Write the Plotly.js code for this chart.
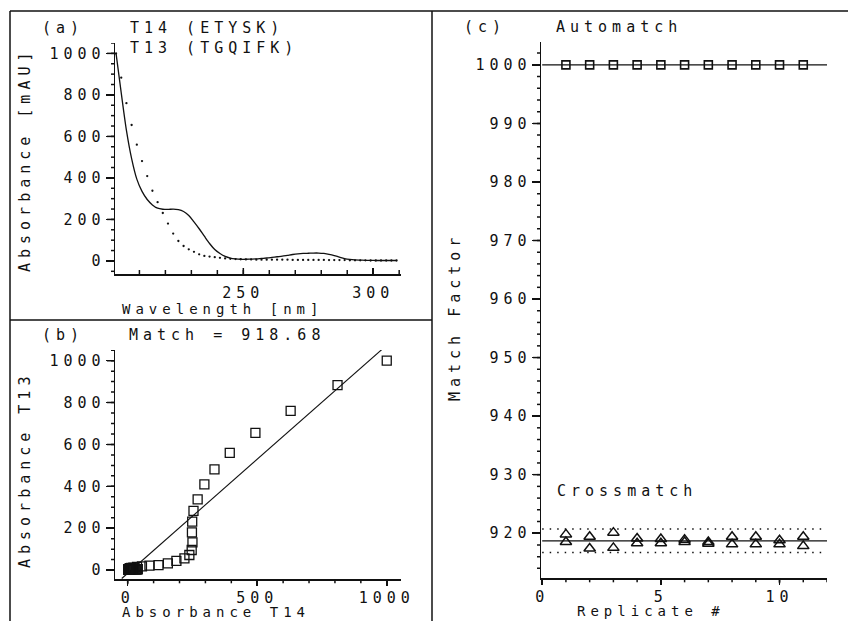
<!DOCTYPE html>
<html>
<head>
<meta charset="utf-8">
<script src="https://cdn.plot.ly/plotly-3.0.1.min.js"></script>
<style>
  html, body { margin: 0; padding: 0; background: #ffffff; }
  #chart { width: 857px; height: 621px; }
  svg text { letter-spacing: 5px; }
</style>
</head>
<body>
<div id="chart"></div>
<script>
// UV spectra of two tryptic peptides, sampled every 2 nm
const wavelength = [201,203,205,207,209,211,213,215,217,219,221,223,225,227,229,231,233,235,237,239,
                    241,243,245,247,249,251,253,255,257,259,261,263,265,267,269,271,273,275,277,279,
                    281,283,285,287,289,291,293,295,297,299,301,303,305,307,309];
// T14 (ETYSK), absorbance in mAU
const absT14 = [1000,810,629,493,394,335,296,270,254,249,248,250,247,238,219,188,155,119,84,55,
                36,22,14,10,8,8,9,10,12,14,17,20,23,27,31,34,36,37,38,38,
                36,32,26,18,11,7,5,4,3,3,2,2,2,2,2];
// T13 (TGQIFK), absorbance in mAU
const absT13 = [1000,883,760,655,560,481,409,338,283,231,180,132,96,72,56,44,32,24,21,18,
                15,12,10,9,8,7,7,6,6,6,6,6,6,6,5,5,5,5,5,5,
                5,4,4,4,4,3,3,3,3,2,2,2,2,2,2];

// Regression of T13 on T14 and the span it is drawn over
const fitSlope = 1.089;
const fitIntercept = -15;
const fitSpan = [-23, 982];

// Match factors for 11 replicate runs
const matchValue = 918.68;
const replicates = [1,2,3,4,5,6,7,8,9,10,11];
const replicateSpan = [0, 12];
const autoMatch = [1000,1000,1000,1000,1000,1000,1000,1000,1000,1000,1000];
const crossMatchA = [919.8,919.4,920.1,919.1,919.0,918.9,918.5,919.4,919.4,918.8,919.4];
const crossMatchB = [918.5,917.4,917.5,918.3,918.3,918.5,918.2,918.1,918.1,918.1,917.8];
const crossLimits = [916.7, 920.7];

// Labelled tick values of each axis
const wavelengthTicks = [250, 300];
const absorbanceTicks = [0, 200, 400, 600, 800, 1000];
const t14Ticks = [0, 500, 1000];
const replicateTicks = [0, 5, 10];
const matchTicks = [920, 930, 940, 950, 960, 970, 980, 990, 1000];

const W = 857, H = 621;
const px = v => v / W;
const py = v => 1 - v / H;
const ink = '#111111';
const FONT = { family: 'DejaVu Sans Mono', size: 15, color: ink };
const FONT_SM = { family: 'DejaVu Sans Mono', size: 14, color: ink };

const autoMean = autoMatch.reduce((a, b) => a + b, 0) / autoMatch.length;
const flat = (v) => replicateSpan.map(() => v);

const traces = [
  { x: wavelength, y: absT14, xaxis: 'x', yaxis: 'y', mode: 'lines', name: 'T14 (ETYSK)',
    line: { color: ink, width: 1.3, shape: 'spline', smoothing: 0.8 } },
  { x: wavelength, y: absT13, xaxis: 'x', yaxis: 'y', mode: 'markers', name: 'T13 (TGQIFK)',
    marker: { color: ink, size: 2.3 } },

  { x: fitSpan, y: fitSpan.map(v => fitSlope * v + fitIntercept), xaxis: 'x2', yaxis: 'y2',
    mode: 'lines', line: { color: ink, width: 1.1 } },
  { x: absT14, y: absT13, xaxis: 'x2', yaxis: 'y2', mode: 'markers',
    marker: { symbol: 'square-open', size: 9, color: ink, line: { width: 1.3, color: ink } } },

  { x: replicateSpan, y: flat(autoMean), xaxis: 'x3', yaxis: 'y3', mode: 'lines',
    line: { color: ink, width: 1.2 } },
  { x: replicates, y: autoMatch, xaxis: 'x3', yaxis: 'y3', mode: 'markers',
    marker: { symbol: 'square-open', size: 8, color: ink, line: { width: 1.6, color: ink } } },

  { x: replicateSpan, y: flat(matchValue), xaxis: 'x3', yaxis: 'y3', mode: 'lines',
    line: { color: ink, width: 1.2 } },
  { x: replicateSpan, y: flat(crossLimits[1]), xaxis: 'x3', yaxis: 'y3', mode: 'lines',
    line: { color: ink, width: 1.5, dash: '1.5px,6px' } },
  { x: replicateSpan, y: flat(crossLimits[0]), xaxis: 'x3', yaxis: 'y3', mode: 'lines',
    line: { color: ink, width: 1.5, dash: '1.5px,6px' } },
  { x: replicates, y: crossMatchA, xaxis: 'x3', yaxis: 'y3', mode: 'markers',
    marker: { symbol: 'triangle-up-open', size: 10, color: ink, line: { width: 1.5, color: ink } } },
  { x: replicates, y: crossMatchB, xaxis: 'x3', yaxis: 'y3', mode: 'markers',
    marker: { symbol: 'triangle-up-open', size: 10, color: ink, line: { width: 1.5, color: ink } } }
];

// Pixel boxes of the three plot areas
const boxA = { x: [115, 401], y: [43, 274] };
const boxB = { x: [115, 401], y: [350, 579.3] };
const boxC = { x: [541, 827], y: [42, 578.3] };

function axis(extra) {
  return Object.assign({
    showline: true, linecolor: ink, linewidth: 1.5, mirror: false,
    showgrid: false, zeroline: false, ticks: 'outside', ticklen: 8, tickwidth: 1.5,
    tickcolor: ink, tickfont: FONT, fixedrange: true, tickmode: 'array'
  }, extra);
}

// Evenly spaced values between two limits, used for the tick marks
function steps(start, stop, step) {
  const out = [];
  for (let v = start; v <= stop + 1e-9; v += step) out.push(+v.toFixed(6));
  return out;
}

// Tick marks as short line segments tied to an axis and the edge of its plot area
function yTickMarks(axId, box, values, len) {
  const w = box.x[1] - box.x[0];
  return values.map(v => ({ type: 'line', layer: 'above', xref: 'x' + axId + ' domain', yref: 'y' + axId,
    x0: -len / w, x1: 0, y0: v, y1: v, line: { color: ink, width: 1.5 } }));
}
function xTickMarks(axId, box, values, len) {
  const h = box.y[1] - box.y[0];
  return values.map(v => ({ type: 'line', layer: 'above', xref: 'x' + axId, yref: 'y' + axId + ' domain',
    x0: v, x1: v, y0: 0, y1: len / h, line: { color: ink, width: 1.5 } }));
}

const tickShapes = [].concat(
  xTickMarks('', boxA, wavelengthTicks, 6),
  xTickMarks('', boxA, steps(210, 310, 10), 4),
  yTickMarks('', boxA, absorbanceTicks, 8),
  yTickMarks('', boxA, steps(-50, 1050, 50), 4),

  xTickMarks('2', boxB, t14Ticks, -5),
  xTickMarks('2', boxB, steps(0, 1000, 100), -4),
  yTickMarks('2', boxB, absorbanceTicks, 8),
  yTickMarks('2', boxB, steps(-0, 1050, 50), 4),

  xTickMarks('3', boxC, replicateTicks, -5),
  xTickMarks('3', boxC, steps(0, 12, 1), -4),
  yTickMarks('3', boxC, matchTicks, 8),
  yTickMarks('3', boxC, steps(914, 1002, 2), 4)
);

const frame = [
  [10, 11, 848, 11], [10, 11, 10, H], [432, 11, 432, H], [10, 320, 432, 320]
].map(s => ({ type: 'line', xref: 'paper', yref: 'paper', x0: px(s[0]), y0: py(s[1]), x1: px(s[2]), y1: py(s[3]),
  line: { color: ink, width: 1.5 } }));

const layout = {
  width: W, height: H,
  margin: { l: 0, r: 0, t: 0, b: 0 },
  showlegend: false,
  font: FONT,

  xaxis: axis({ domain: [px(boxA.x[0]), px(boxA.x[1])], anchor: 'y', range: [200.6, 310.7],
    tickvals: wavelengthTicks, ticks: 'inside', ticklen: 6, ticklabelstandoff: 4 }),
  yaxis: axis({ domain: [py(boxA.y[1]), py(boxA.y[0])], anchor: 'x', range: [-63, 1050],
    tickvals: absorbanceTicks, ticklabelstandoff: -3 }),

  xaxis2: axis({ domain: [px(boxB.x[0]), px(boxB.x[1])], anchor: 'y2', range: [-49, 1055],
    tickvals: t14Ticks, ticklen: 5, ticklabelstandoff: -1 }),
  yaxis2: axis({ domain: [py(boxB.y[1]), py(boxB.y[0])], anchor: 'x2', range: [-44, 1051],
    tickvals: absorbanceTicks, ticklabelstandoff: -3 }),

  xaxis3: axis({ domain: [px(boxC.x[0]), px(boxC.x[1])], anchor: 'y3', range: [-0.05, 12],
    tickvals: replicateTicks, ticklen: 5, ticklabelstandoff: -1 }),
  yaxis3: axis({ domain: [py(boxC.y[1]), py(boxC.y[0])], anchor: 'x3', range: [912.3, 1003.9],
    tickvals: matchTicks, ticklabelstandoff: -3 }),

  shapes: frame.concat(tickShapes),

  annotations: [
    { text: '(a)', x: px(41), y: py(28) },
    { text: 'T14 (ETYSK)', x: px(129), y: py(28) },
    { text: 'T13 (TGQIFK)', x: px(129), y: py(48) },
    { text: 'Wavelength [nm]', x: px(121), y: py(309), font: FONT_SM },
    { text: '(b)', x: px(41), y: py(335) },
    { text: 'Match = 918.68', x: px(128), y: py(335) },
    { text: 'Absorbance T14', x: px(121), y: py(612), font: FONT_SM },
    { text: '(c)', x: px(463), y: py(27) },
    { text: 'Automatch', x: px(555), y: py(27) },
    { text: 'Crossmatch', x: px(556), y: py(491) },
    { text: 'Replicate #', x: px(576), y: py(611), font: FONT_SM },
    { text: 'Absorbance [mAU]', x: px(25), y: py(160), textangle: -90, xanchor: 'center' },
    { text: 'Absorbance T13', x: px(25), y: py(470), textangle: -90, xanchor: 'center' },
    { text: 'Match Factor', x: px(455), y: py(317), textangle: -90, xanchor: 'center' }
  ].map(a => Object.assign({ xref: 'paper', yref: 'paper', showarrow: false,
    xanchor: 'left', yanchor: 'middle', font: FONT, borderpad: 0 }, a))
};

Plotly.newPlot('chart', traces, layout, { staticPlot: true });
</script>
</body>
</html>
